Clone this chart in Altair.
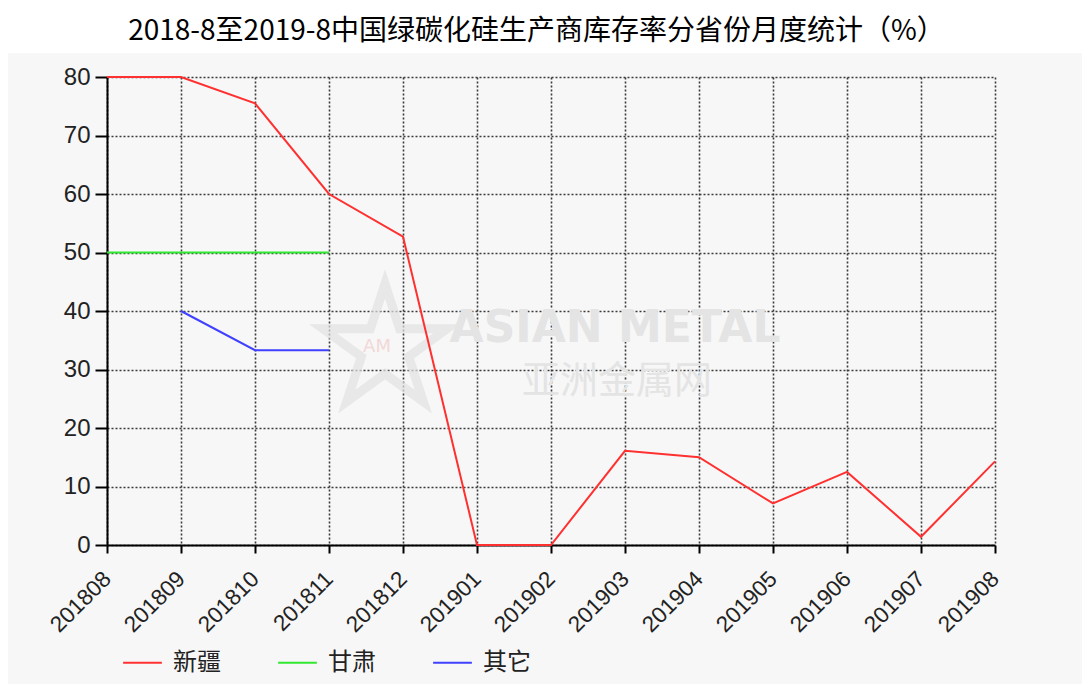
import altair as alt
import pandas as pd

months = ["201808", "201809", "201810", "201811", "201812", "201901", "201902",
          "201903", "201904", "201905", "201906", "201907", "201908"]
xinjiang = [80, 80, 75.5, 60, 52.7, 0, 0, 16.1, 15.0, 7.1, 12.5, 1.4, 14.3]
gansu_months = ["201808", "201809", "201810", "201811"]
gansu = [50, 50, 50, 50]
other_months = ["201809", "201810", "201811"]
other = [40, 33.3, 33.3]

series_names = ["新疆", "甘肃", "其它"]
series_colors = ["#ff3030", "#30e830", "#4040ff"]
title_text = "2018-8至2019-8中国绿碳化硅生产商库存率分省份月度统计（%）"

rows = []
for m, v in zip(months, xinjiang):
    rows.append({"month": m, "value": v, "series": "新疆"})
for m, v in zip(gansu_months, gansu):
    rows.append({"month": m, "value": v, "series": "甘肃"})
for m, v in zip(other_months, other):
    rows.append({"month": m, "value": v, "series": "其它"})
df = pd.DataFrame(rows)

W, H = 888, 468
PADL, PADT = 99, 69
TOTW, TOTH = 1074, 676

one = pd.DataFrame({"a": [0]})

band = alt.Chart(one).mark_rect(color="white").encode(
    x=alt.value(-PADL), x2=alt.value(TOTW - PADL),
    y=alt.value(-PADT), y2=alt.value(-24)
)

title = alt.Chart(pd.DataFrame({"t": [title_text]})).mark_text(
    font="Noto Sans CJK SC", fontSize=28, color="black", align="center", baseline="middle"
).encode(text="t:N", x=alt.value(429.5), y=alt.value(-45))

wm1 = alt.Chart(pd.DataFrame({"t": ["ASIAN METAL"]})).mark_text(
    font="DejaVu Sans", fontSize=44, fontWeight="bold", color="#e4e4e4", align="center", baseline="middle"
).encode(text="t:N", x=alt.value(508), y=alt.value(252))
wm2 = alt.Chart(pd.DataFrame({"t": ["亚洲金属网"]})).mark_text(
    font="Noto Sans CJK SC", fontSize=38, color="#e4e4e4", align="center", baseline="middle"
).encode(text="t:N", x=alt.value(510), y=alt.value(305))
star_path = "M0,-1 L0.2245,-0.309 L0.951,-0.309 L0.363,0.118 L0.588,0.809 L0,0.382 L-0.588,0.809 L-0.363,0.118 L-0.951,-0.309 L-0.2245,-0.309 Z"
wm3 = alt.Chart(one).mark_point(
    shape=star_path, size=17000, filled=False, stroke="#e2e2e2", strokeWidth=9
).encode(x=alt.value(278), y=alt.value(272))
wm4 = alt.Chart(pd.DataFrame({"t": ["AM"]})).mark_text(
    font="DejaVu Sans", fontSize=18, color="#f2d8d8", align="center", baseline="middle"
).encode(text="t:N", x=alt.value(270), y=alt.value(270))

lines = alt.Chart(df).mark_line(strokeWidth=2).encode(
    x=alt.X("month:O", sort=months, scale=alt.Scale(type="point", padding=0, domain=months),
            axis=alt.Axis(title=None, labelAngle=-45, labelAlign="right", labelBaseline="middle",
                          labelFont="Liberation Sans", labelFontSize=22.5, labelColor="#222",
                          labelPadding=22, tickSize=8, tickWidth=2, tickColor="black",
                          domainColor="black", domainWidth=2,
                          grid=True, gridColor="#3a3a3a", gridDash=[2, 2], gridWidth=1.6)),
    y=alt.Y("value:Q", scale=alt.Scale(domain=[0, 80], nice=False),
            axis=alt.Axis(title=None, values=[0, 10, 20, 30, 40, 50, 60, 70, 80],
                          labelFont="Liberation Sans", labelFontSize=24, labelColor="#222",
                          labelPadding=5, tickSize=12, tickWidth=2, tickColor="black",
                          domainColor="black", domainWidth=2,
                          grid=True, gridColor="#3a3a3a", gridDash=[2, 2], gridWidth=1.6)),
    color=alt.Color("series:N", sort=series_names,
                    scale=alt.Scale(domain=series_names, range=series_colors),
                    legend=alt.Legend(title=None, orient="none", direction="horizontal",
                                      legendX=15, legendY=565,
                                      symbolType="stroke", symbolSize=1500, symbolStrokeWidth=2,
                                      labelFont="Noto Sans CJK SC", labelFontSize=24, labelColor="#222",
                                      labelOffset=10, columnPadding=53)),
    detail="series:N",
)

chart = alt.layer(band, title, wm3, wm4, wm1, wm2, lines).properties(
    width=W, height=H,
    background="#f7f7f7",
    padding={"left": PADL, "top": PADT, "right": TOTW - PADL - W, "bottom": TOTH - PADT - H},
    autosize=alt.AutoSizeParams(type="none"),
).configure_view(stroke=None)

chart.save("out.html", embed_options={"renderer": "svg", "actions": False})
